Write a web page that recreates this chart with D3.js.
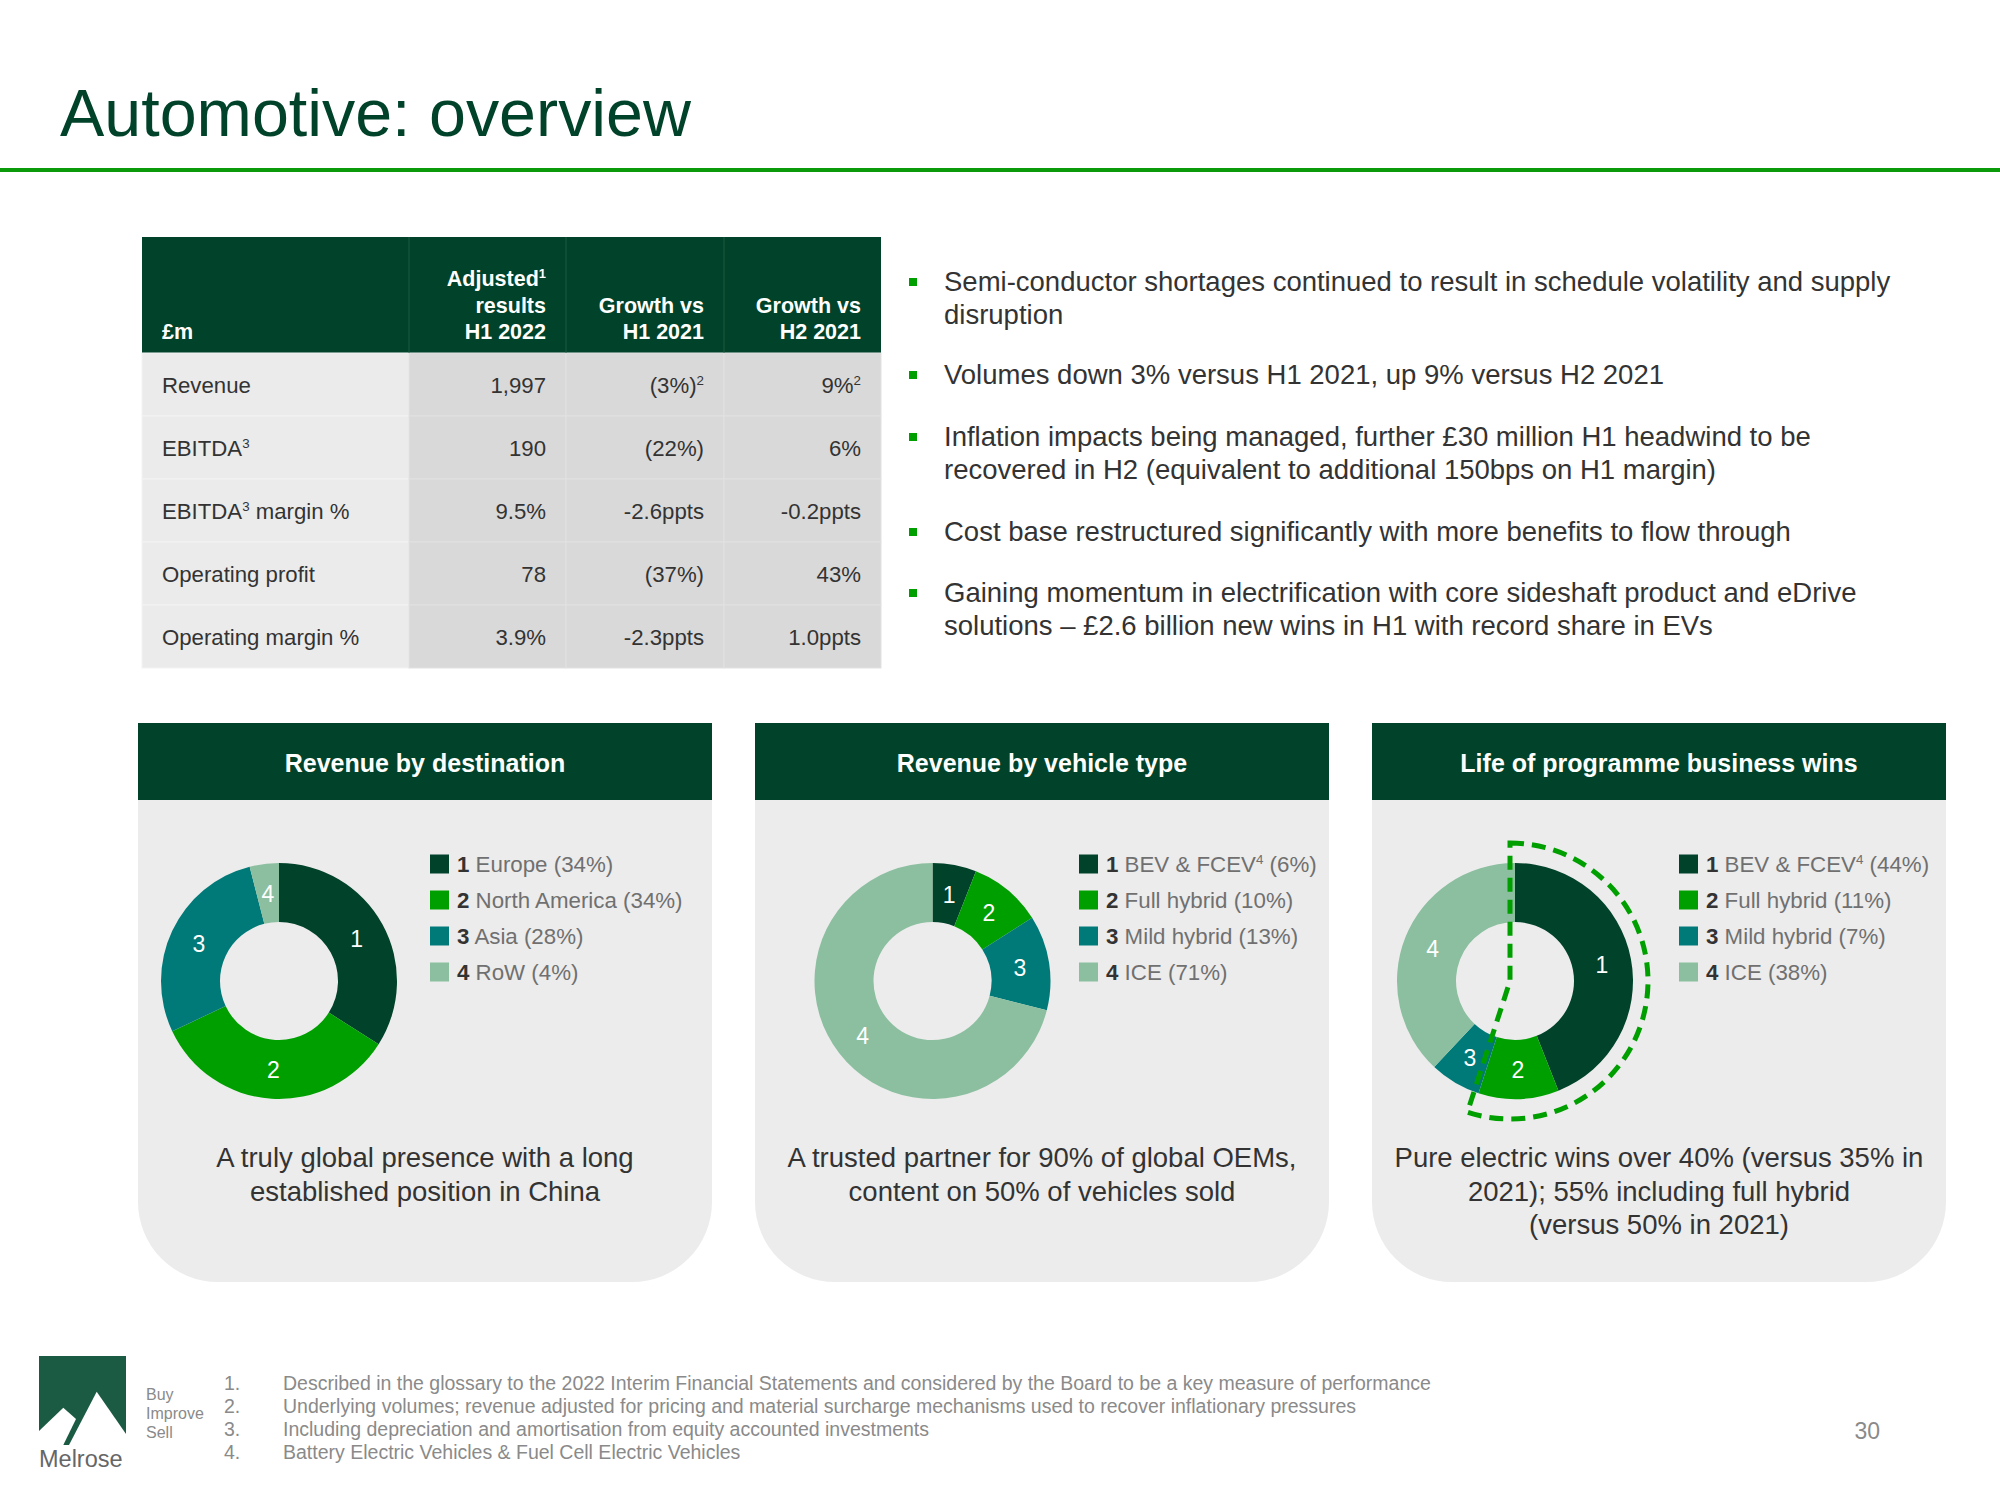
<!DOCTYPE html>
<html>
<head>
<meta charset="utf-8">
<script src="https://cdn.jsdelivr.net/npm/d3@7"></script>
<style>
  html, body { margin: 0; padding: 0; background: #ffffff; }
  svg { display: block; font-family: "Liberation Sans", Arial, Helvetica, sans-serif; }
</style>
</head>
<body>
<svg id="chart" width="2000" height="1500"></svg>
<script>
// ---------------- DATA ----------------
const titleText = "Automotive: overview";

const tableHeaders = [["£m"], ["Adjusted^1", "results", "H1 2022"], ["Growth vs", "H1 2021"], ["Growth vs", "H2 2021"]];
const tableRowLabels = ["Revenue", "EBITDA^3", "EBITDA^3 margin %", "Operating profit", "Operating margin %"];
const adjustedH1_2022 = ["1,997", "190", "9.5%", "78", "3.9%"];
const growthVsH1_2021 = ["(3%)^2", "(22%)", "-2.6ppts", "(37%)", "-2.3ppts"];
const growthVsH2_2021 = ["9%^2", "6%", "-0.2ppts", "43%", "1.0ppts"];

const bullets = [
  ["Semi-conductor shortages continued to result in schedule volatility and supply", "disruption"],
  ["Volumes down 3% versus H1 2021, up 9% versus H2 2021"],
  ["Inflation impacts being managed, further £30 million H1 headwind to be", "recovered in H2 (equivalent to additional 150bps on H1 margin)"],
  ["Cost base restructured significantly with more benefits to flow through"],
  ["Gaining momentum in electrification with core sideshaft product and eDrive", "solutions – £2.6 billion new wins in H1 with record share in EVs"]
];

const destinationCategories = ["Europe", "North America", "Asia", "RoW"];
const destinationValues = [34, 34, 28, 4];

const vehicleCategories = ["BEV & FCEV^4", "Full hybrid", "Mild hybrid", "ICE"];
const vehicleValues = [6, 10, 13, 71];

const winsCategories = ["BEV & FCEV^4", "Full hybrid", "Mild hybrid", "ICE"];
const winsValues = [44, 11, 7, 38];
const winsHighlightCount = 2; // BEV + full hybrid (55%)

const panelTitles = ["Revenue by destination", "Revenue by vehicle type", "Life of programme business wins"];
const panelCaptions = [
  ["A truly global presence with a long", "established position in China"],
  ["A trusted partner for 90% of global OEMs,", "content on 50% of vehicles sold"],
  ["Pure electric wins over 40% (versus 35% in", "2021); 55% including full hybrid", "(versus 50% in 2021)"]
];

const footnotes = [
  "Described in the glossary to the 2022 Interim Financial Statements and considered by the Board to be a key measure of performance",
  "Underlying volumes; revenue adjusted for pricing and material surcharge mechanisms used to recover inflationary pressures",
  "Including depreciation and amortisation from equity accounted investments",
  "Battery Electric Vehicles & Fuel Cell Electric Vehicles"
];
const taglineWords = ["Buy", "Improve", "Sell"];
const pageNumber = "30";

// ---------------- STYLE ----------------
const C = {
  dark: "#00432a", green: "#009f00", teal: "#007a78", light: "#8bbf9f",
  panel: "#ececec", text: "#333333", grey: "#707070", foot: "#8a8a8a", logo: "#1b5b43"
};
const sliceColors = [C.dark, C.green, C.teal, C.light];

const svg = d3.select("#chart");

// helper: text with ^n superscripts (fs = base font size in px)
function addParts(sel, str, fs) {
  const parts = str.split(/\^(\d)/);
  const lift = Math.round(fs * 0.38);
  let pendingDown = 0;
  parts.forEach((p, i) => {
    if (p === "") return;
    if (i % 2 === 1) {
      sel.append("tspan").attr("font-size", fs * 0.6).attr("dy", -lift).text(p);
      pendingDown = lift;
    } else {
      const t = sel.append("tspan").text(p);
      if (pendingDown) { t.attr("dy", pendingDown); pendingDown = 0; }
    }
  });
  return sel;
}

// ---------------- TITLE ----------------
svg.append("text").attr("x", 60).attr("y", 136)
  .attr("font-size", 66.4).attr("fill", C.dark).text(titleText);
svg.append("rect").attr("x", 0).attr("y", 168).attr("width", 2000).attr("height", 4).attr("fill", "#0a9a0a");

// ---------------- TABLE ----------------
const colEdges = [142, 409, 566, 724, 881];
const headTop = 237, headBottom = 353, rowH = 63;
const tableCols = [tableRowLabels, adjustedH1_2022, growthVsH1_2021, growthVsH2_2021];
const yRow = d3.scaleBand().domain(d3.range(tableRowLabels.length))
  .range([headBottom, headBottom + rowH * tableRowLabels.length]);

const tbl = svg.append("g");
tbl.append("rect").attr("x", colEdges[0]).attr("y", headTop)
  .attr("width", colEdges[4] - colEdges[0]).attr("height", headBottom - headTop).attr("fill", C.dark);
for (let c = 0; c < 4; c++) {
  tbl.selectAll(null).data(tableCols[c]).enter().append("rect")
    .attr("x", colEdges[c]).attr("y", (d, i) => yRow(i))
    .attr("width", colEdges[c + 1] - colEdges[c]).attr("height", yRow.bandwidth())
    .attr("fill", c === 0 ? "#ebebeb" : "#d9d9d9")
    .attr("stroke", c === 0 ? "#f3f3f3" : "#e1e1e1").attr("stroke-width", 1);
}
for (let c = 1; c < 4; c++) {
  tbl.append("line").attr("x1", colEdges[c]).attr("x2", colEdges[c])
    .attr("y1", headTop).attr("y2", headBottom).attr("stroke", "#1b5a40").attr("stroke-width", 1);
}
tableHeaders.forEach((lines, c) => {
  const n = lines.length;
  lines.forEach((ln, j) => {
    const t = tbl.append("text")
      .attr("y", 339 - (n - 1 - j) * 26.5)
      .attr("font-size", 21.5).attr("font-weight", "bold").attr("fill", "#ffffff");
    if (c === 0) t.attr("x", colEdges[0] + 20).attr("text-anchor", "start");
    else t.attr("x", colEdges[c + 1] - 20).attr("text-anchor", "end");
    addParts(t, ln, 21.5);
  });
});
tableCols.forEach((vals, c) => {
  vals.forEach((v, i) => {
    const t = tbl.append("text").attr("y", yRow(i) + rowH / 2 + 8)
      .attr("font-size", 22.2).attr("fill", C.text);
    if (c === 0) t.attr("x", colEdges[0] + 20).attr("text-anchor", "start");
    else t.attr("x", colEdges[c + 1] - 20).attr("text-anchor", "end");
    addParts(t, v, 22.2);
  });
});

// ---------------- BULLETS ----------------
const bulletTops = [291, 384, 446, 541, 602];
const bg = svg.append("g");
bullets.forEach((lines, i) => {
  bg.append("rect").attr("x", 909).attr("y", bulletTops[i] - 13).attr("width", 8).attr("height", 8).attr("fill", C.green);
  lines.forEach((ln, j) => {
    bg.append("text").attr("x", 944).attr("y", bulletTops[i] + j * 33)
      .attr("font-size", 27.5).attr("fill", C.text).text(ln);
  });
});

// ---------------- PANELS ----------------
const panelX = [138, 755, 1372], panelW = 574;
const panelTop = 723, headerH = 77, panelBottom = 1282, cornerR = 80;
const donutCx = [279, 932.5, 1515], donutCy = 981;
const legendX = [430, 1079, 1679];
const outerR = 118, innerR = 59;

const datasets = [
  { cats: destinationCategories, vals: destinationValues },
  { cats: vehicleCategories, vals: vehicleValues },
  { cats: winsCategories, vals: winsValues }
];

function panelPath(x, y, w, h, r) {
  const p = d3.path();
  p.moveTo(x, y);
  p.lineTo(x + w, y);
  p.lineTo(x + w, y + h - r);
  p.arcTo(x + w, y + h, x + w - r, y + h, r);
  p.lineTo(x + r, y + h);
  p.arcTo(x, y + h, x, y + h - r, r);
  p.closePath();
  return p.toString();
}

const pie = d3.pie().sort(null).value(d => d);
const arc = d3.arc().innerRadius(innerR).outerRadius(outerR);

datasets.forEach((ds, k) => {
  const g = svg.append("g");
  const x0 = panelX[k];
  g.append("path").attr("d", panelPath(x0, panelTop, panelW, panelBottom - panelTop, cornerR)).attr("fill", C.panel);
  g.append("rect").attr("x", x0).attr("y", panelTop).attr("width", panelW).attr("height", headerH).attr("fill", C.dark);
  g.append("text").attr("x", x0 + panelW / 2).attr("y", panelTop + 49).attr("text-anchor", "middle")
    .attr("font-size", 25).attr("font-weight", "bold").attr("fill", "#ffffff").text(panelTitles[k]);

  const dg = g.append("g").attr("transform", `translate(${donutCx[k]},${donutCy})`);
  const arcs = pie(ds.vals);
  dg.selectAll("path.slice").data(arcs).enter().append("path").attr("class", "slice")
    .attr("d", arc).attr("fill", (d, i) => sliceColors[i]);
  dg.selectAll("text.lbl").data(arcs).enter().append("text").attr("class", "lbl")
    .attr("x", d => arc.centroid(d)[0]).attr("y", d => arc.centroid(d)[1] + 8.5)
    .attr("text-anchor", "middle").attr("font-size", 23).attr("fill", "#ffffff")
    .text((d, i) => i + 1);

  if (k === 2) {
    const total = d3.sum(ds.vals);
    const endA = d3.sum(ds.vals.slice(0, winsHighlightCount)) / total * 2 * Math.PI;
    const hl = d3.arc().innerRadius(0).outerRadius(138).startAngle(0).endAngle(endA);
    dg.append("path").attr("d", hl()).attr("transform", "translate(-5,0)")
      .attr("fill", "none").attr("stroke", C.green)
      .attr("stroke-width", 5).attr("stroke-dasharray", "14,8").attr("stroke-linejoin", "miter");
  }

  ds.cats.forEach((cat, i) => {
    const cy = 864 + i * 36;
    g.append("rect").attr("x", legendX[k]).attr("y", cy - 9.5).attr("width", 19).attr("height", 19).attr("fill", sliceColors[i]);
    const t = g.append("text").attr("x", legendX[k] + 27).attr("y", cy + 8).attr("font-size", 22.3).attr("fill", C.grey);
    t.append("tspan").attr("font-weight", "bold").attr("fill", C.text).text(i + 1);
    t.append("tspan").text(" ");
    addParts(t, cat + ` (${ds.vals[i]}%)`, 22.3);
  });

  panelCaptions[k].forEach((ln, j) => {
    g.append("text").attr("x", x0 + panelW / 2).attr("y", 1167 + j * 33.5).attr("text-anchor", "middle")
      .attr("font-size", 27.5).attr("fill", C.text).text(ln);
  });
});

// ---------------- FOOTER ----------------
const fg = svg.append("g");
fg.append("rect").attr("x", 39).attr("y", 1356).attr("width", 87).attr("height", 89).attr("fill", C.logo);
fg.append("polygon").attr("points", "69,1445 96.7,1391.7 126,1434 126,1445").attr("fill", "#ffffff");
fg.append("polygon").attr("points", "39,1431 63.3,1407.7 76,1419 63.3,1445 39,1445").attr("fill", "#ffffff");
fg.append("text").attr("x", 39).attr("y", 1467).attr("font-size", 23.5).attr("fill", "#666666").text("Melrose");
taglineWords.forEach((w, i) => {
  fg.append("text").attr("x", 146).attr("y", 1400 + i * 19).attr("font-size", 16).attr("fill", C.foot).text(w);
});
footnotes.forEach((f, i) => {
  fg.append("text").attr("x", 224).attr("y", 1390 + i * 23).attr("font-size", 19.5).attr("fill", C.foot).text((i + 1) + ".");
  fg.append("text").attr("x", 283).attr("y", 1390 + i * 23).attr("font-size", 19.5).attr("fill", C.foot).text(f);
});
fg.append("text").attr("x", 1880).attr("y", 1439).attr("text-anchor", "end").attr("font-size", 23).attr("fill", C.foot).text(pageNumber);
</script>
</body>
</html>
